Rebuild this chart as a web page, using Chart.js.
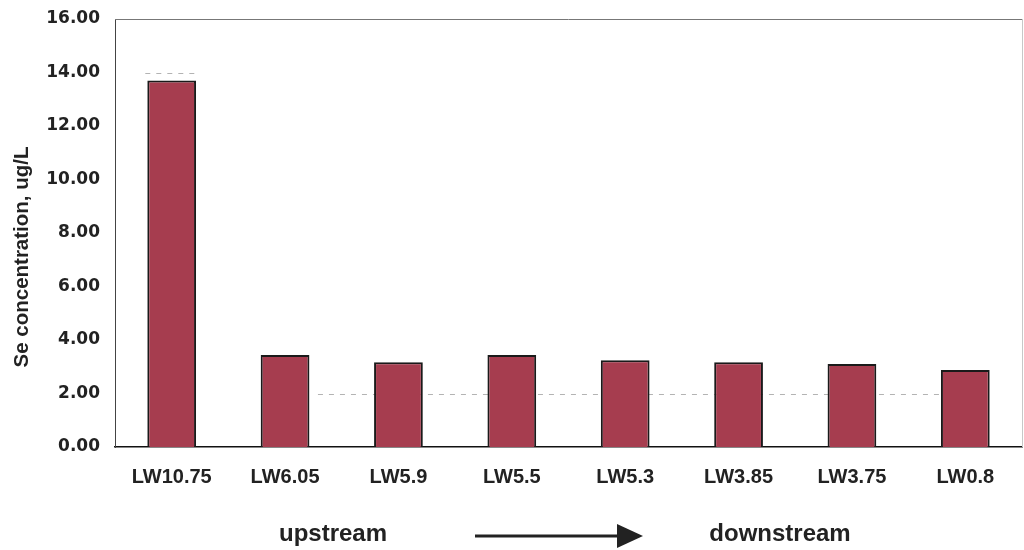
<!DOCTYPE html>
<html>
<head>
<meta charset="utf-8">
<script src="https://cdn.jsdelivr.net/npm/chart.js@4.4.1/dist/chart.umd.min.js"></script>
<style>
  html, body { margin: 0; padding: 0; background: #fff; }
  #wrap { width: 1024px; height: 550px; position: relative; }
</style>
</head>
<body>
<div id="wrap"><canvas id="chart" width="1024" height="550"></canvas></div>
<script>
// Sampling sites, ordered upstream to downstream
const sites = ['LW10.75', 'LW6.05', 'LW5.9', 'LW5.5', 'LW5.3', 'LW3.85', 'LW3.75', 'LW0.8'];
// Selenium concentration at each site (ug/L)
const seConcentration = [13.7, 3.44, 3.17, 3.44, 3.24, 3.17, 3.10, 2.88];
// Axis settings
const yTickStep = 2;
const yMax = 16;
const yTitle = 'Se concentration, ug/L';
const flowLabels = ['upstream', 'downstream'];

const barFill = '#a63d4f';
const textColor = '#222222';

// Decorations: dashed reference levels, frame, axis title and the flow arrow
const decorPlugin = {
  id: 'decor',
  beforeDatasetsDraw(chart) {
    const { ctx, scales: { x, y } } = chart;
    ctx.save();
    ctx.strokeStyle = '#b3b3b3';
    ctx.lineWidth = 1;
    ctx.setLineDash([5, 6]);
    // level at 2.0 running across the downstream sites
    const y2 = Math.round(y.getPixelForValue(2)) + 0.5;
    ctx.beginPath();
    ctx.moveTo(x.getPixelForValue(1.29), y2);
    ctx.lineTo(x.getPixelForValue(6.84), y2);
    ctx.stroke();
    // level at 14.0 over the first site
    const bar0 = chart.getDatasetMeta(0).data[0];
    const y14 = Math.round(y.getPixelForValue(14)) + 0.5;
    ctx.beginPath();
    ctx.moveTo(bar0.x - bar0.width / 2 - 2, y14);
    ctx.lineTo(bar0.x + bar0.width / 2 + 2, y14);
    ctx.stroke();
    ctx.restore();
  },
  afterDraw(chart) {
    const { ctx, chartArea } = chart;
    ctx.save();
    // top and right frame
    ctx.strokeStyle = '#777777';
    ctx.lineWidth = 1;
    ctx.beginPath();
    ctx.moveTo(chartArea.left, chartArea.top + 0.5);
    ctx.lineTo(chartArea.right, chartArea.top + 0.5);
    ctx.stroke();
    ctx.strokeStyle = '#c8c8c8';
    ctx.beginPath();
    ctx.moveTo(chartArea.right + 0.5, chartArea.top);
    ctx.lineTo(chartArea.right + 0.5, chartArea.bottom);
    ctx.stroke();

    // y axis title
    ctx.fillStyle = textColor;
    ctx.font = 'bold 20.5px "Liberation Sans", Arial, sans-serif';
    ctx.textAlign = 'center';
    ctx.textBaseline = 'middle';
    ctx.translate(22, 257);
    ctx.rotate(-Math.PI / 2);
    ctx.fillText(yTitle, 0, 0);
    ctx.setTransform(1, 0, 0, 1, 0, 0);

    // flow direction
    ctx.font = 'bold 24px "Liberation Sans", Arial, sans-serif';
    ctx.textAlign = 'center';
    ctx.textBaseline = 'alphabetic';
    ctx.fillStyle = textColor;
    ctx.fillText(flowLabels[0], 333, 541);
    ctx.fillText(flowLabels[1], 780, 541);

    ctx.strokeStyle = '#222222';
    ctx.lineWidth = 3;
    ctx.beginPath();
    ctx.moveTo(475, 536);
    ctx.lineTo(620, 536);
    ctx.stroke();
    ctx.beginPath();
    ctx.moveTo(617, 524);
    ctx.lineTo(643, 536);
    ctx.lineTo(617, 548);
    ctx.closePath();
    ctx.fillStyle = '#222222';
    ctx.fill();
    ctx.restore();
  }
};

new Chart(document.getElementById('chart'), {
  type: 'bar',
  data: {
    labels: sites,
    datasets: [{
      data: seConcentration,
      backgroundColor: barFill,
      borderColor: '#1a1a1a',
      borderWidth: 2,
      borderSkipped: 'bottom',
      categoryPercentage: 1.0,
      barPercentage: 0.43
    }]
  },
  options: {
    responsive: false,
    animation: false,
    devicePixelRatio: 1,
    layout: { padding: { top: 19, right: 2, bottom: 0, left: 0 } },
    plugins: {
      legend: { display: false },
      tooltip: { enabled: false }
    },
    scales: {
      x: {
        grid: { display: false, drawTicks: false, tickLength: 0 },
        border: { display: true, color: '#111111', width: 1.5 },
        ticks: {
          color: textColor,
          padding: 18,
          maxRotation: 0,
          font: { family: '"Liberation Sans", Arial, sans-serif', size: 20, weight: 'bold' }
        },
        afterFit(scale) {
          scale.height = 103;
          scale.paddingLeft = 0;
          scale.paddingRight = 0;
        }
      },
      y: {
        min: 0,
        max: yMax,
        grid: { display: false, drawTicks: false, tickLength: 0 },
        border: { display: true, color: '#444444', width: 1 },
        ticks: {
          stepSize: yTickStep,
          color: textColor,
          padding: 15,
          font: { family: '"DejaVu Sans", sans-serif', size: 17, weight: 'bold' },
          callback: (v) => Number(v).toFixed(2)
        },
        afterFit(scale) {
          scale.width = 115;
          scale.paddingTop = 0;
          scale.paddingBottom = 0;
        }
      }
    }
  },
  plugins: [decorPlugin]
});
</script>
</body>
</html>
